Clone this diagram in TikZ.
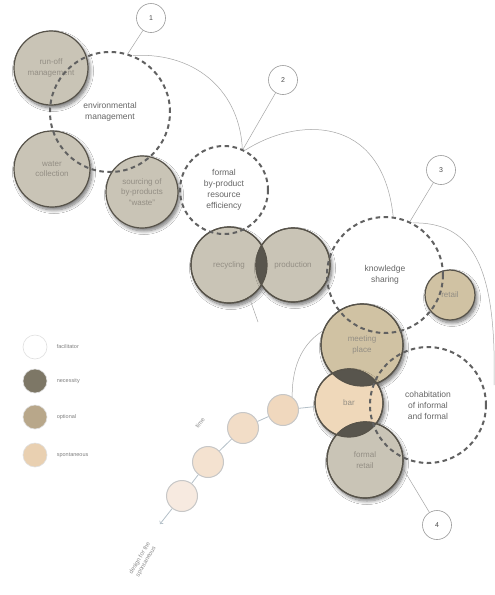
\documentclass[tikz,border=0pt]{standalone}
\usepackage{fontspec}
\setmainfont{Liberation Sans}
\usetikzlibrary{positioning,shadows.blur}
\definecolor{stone}{HTML}{C9C4B6}
\definecolor{sand}{HTML}{D0C2A3}
\definecolor{peach}{HTML}{EFD8BA}
\definecolor{lens}{HTML}{58554D}
\definecolor{rim}{HTML}{57534A}
\definecolor{ink}{HTML}{938E84}
\definecolor{wire}{HTML}{B4C0C8}
\definecolor{needcol}{HTML}{7D7766}
\definecolor{optcol}{HTML}{B8A78A}
\definecolor{spontcol}{HTML}{E9D0B1}
\definecolor{chainA}{HTML}{F0D8BE}
\definecolor{chainB}{HTML}{F2DDC7}
\definecolor{chainC}{HTML}{F4E2D0}
\definecolor{chainD}{HTML}{F7EAE0}
\tikzset{
  spot/.style={circle,draw=rim,line width=1.2pt,inner sep=0pt,align=center,text=ink,
    font=\fontsize{8}{10.5}\selectfont,
    blur shadow={shadow xshift=2pt,shadow yshift=-3pt,shadow opacity=55,shadow blur steps=8,shadow blur radius=3.5pt}},
  facil/.style={circle,draw=black!62,line width=2pt,dash pattern=on 4.5pt off 3.5pt,inner sep=0pt,
    align=center,text=black!60,font=\fontsize{8.5}{11}\selectfont},
  tag/.style={circle,draw=black!40,line width=0.6pt,fill=white,minimum size=29pt,inner sep=0pt,
    font=\fontsize{7}{8}\selectfont,text=black!70},
  key/.style={circle,draw=black!12,line width=0.6pt,minimum size=24pt,inner sep=0pt},
  keytext/.style={font=\fontsize{5.5}{6}\selectfont,text=black!50},
  chain/.style={circle,draw=black!22,line width=1pt,minimum size=31pt,inner sep=0pt},
  thin/.style={draw=black!35,line width=0.5pt},
  note/.style={font=\fontsize{6}{7}\selectfont,text=black!45,align=center}
}
\begin{document}
\begin{tikzpicture}[x=1pt,y=-1pt]
  \useasboundingbox[fill=white] (0,0) rectangle (495,595);
  % places
  \node[spot,fill=stone,minimum size=74pt] (runoff) at (51,68) {run-off\\management};
  \node[spot,fill=stone,minimum size=76pt] (water) at (52,169) {water\\collection};
  \node[spot,fill=stone,minimum size=72pt] (src) at (142,192) {sourcing of\\by-products\\``waste''};
  \node[spot,fill=stone,minimum size=76pt] (rec) at (229,265) {recycling};
  \node[spot,fill=stone,minimum size=74pt] (prod) at (293,265) {production};
  \node[spot,fill=sand,minimum size=50pt] (ret) at (450,295) {retail};
  \node[spot,fill=sand,minimum size=82pt] (meet) at (362,345) {meeting\\place};
  \node[spot,fill=peach,minimum size=68pt] (bar) at (349,403) {bar};
  \node[spot,fill=stone,minimum size=76pt] (frt) at (365,460) {formal\\retail};
  % overlaps
  \begin{scope}
    \clip (rec.center) circle[radius=38];
    \fill[lens] (prod.center) circle[radius=37];
  \end{scope}
  \begin{scope}
    \clip (meet.center) circle[radius=41];
    \fill[lens] (bar.center) circle[radius=34];
  \end{scope}
  \begin{scope}
    \clip (bar.center) circle[radius=34];
    \fill[lens] (frt.center) circle[radius=38];
  \end{scope}
  \draw[rim,line width=1.2pt] (rec.center) circle[radius=38] (prod.center) circle[radius=37]
    (meet.center) circle[radius=41] (bar.center) circle[radius=34] (frt.center) circle[radius=38];
  % facilitators
  \node[facil,minimum size=120pt] (env) at (110,112) {environmental\\management};
  \node[facil,minimum size=88pt] (form) at (224,190) {formal\\by-product\\resource\\efficiency};
  \node[facil,minimum size=116pt] (know) at (385,275) {knowledge\\sharing};
  \node[facil,minimum size=116pt] (coh) at (428,405) {cohabitation\\of informal\\and formal};
  % thin links
  \coordinate (edge) at (494,385);
  \coordinate (scratch) at (258,322);
  \draw[thin] (env.68) .. controls (200,52) and (240,95) .. (form.66);
  \draw[thin] (form.62) .. controls (295,118) and (382,112) .. (know.82);
  \draw[thin] (know.62) .. controls (470,222) and (497,262) .. (edge);
  \draw[thin] (rec.-58) -- (scratch);
  % spontaneous chain
  \node[chain,fill=chainA] (c1) at (283,410) {};
  \node[chain,fill=chainB] (c2) at (243,428) {};
  \node[chain,fill=chainC] (c3) at (208,462) {};
  \node[chain,fill=chainD] (c4) at (182,496) {};
  \coordinate (tip) at (160,524);
  \draw[wire,line width=0.8pt] (bar) -- (c1) -- (c2) -- (c3) -- (c4);
  \draw[wire,line width=0.8pt,->] (c4) -- (tip);
  \draw[thin] (c1.55) .. controls (292,362) and (305,342) .. (meet.160);
  \node[note,rotate=52] (timelbl) at (200,423) {time};
  \node[note,rotate=60] (designlbl) at (143,560) {design for the\\spontaneous};
  % numbers
  \node[tag] (t1) at (151,18) {1};
  \node[tag] (t2) at (283,80) {2};
  \node[tag] (t3) at (441,170) {3};
  \node[tag] (t4) at (437,525) {4};
  \draw[thin] (t1) -- (env.73);
  \draw[thin] (t2) -- (form.65);
  \draw[thin] (t3) -- (know.65);
  \draw[thin] (t4) -- (frt.-12);
  % legend
  \node[key,fill=white] (kfac) at (35,347) {};
  \node[key,fill=needcol] (kneed) at (35,381) {};
  \node[key,fill=optcol] (kopt) at (35,417) {};
  \node[key,fill=spontcol] (kspont) at (35,455) {};
  \node[keytext,right=6pt of kfac] (kfactxt) {facilitator};
  \node[keytext,right=6pt of kneed] (kneedtxt) {necessity};
  \node[keytext,right=6pt of kopt] (kopttxt) {optional};
  \node[keytext,right=6pt of kspont] (kspontxt) {spontaneous};
\end{tikzpicture}
\end{document}
